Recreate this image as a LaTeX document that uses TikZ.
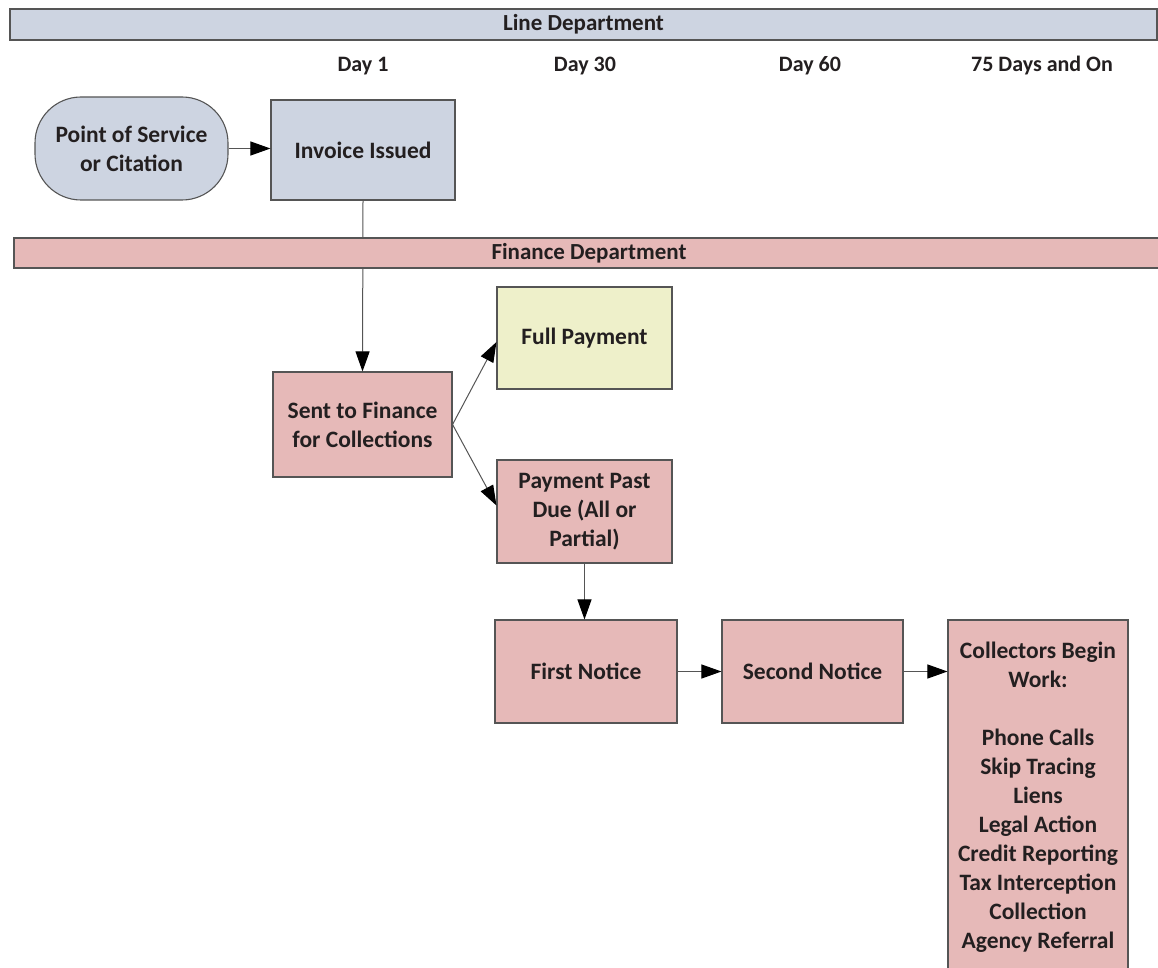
\documentclass[tikz,border=0pt]{standalone}
\usepackage{fontspec}
\setmainfont{Carlito}
\usetikzlibrary{arrows.meta,positioning,calc}
\definecolor{lineblue}{RGB}{205,212,225}
\definecolor{finred}{RGB}{230,185,184}
\definecolor{fullyel}{RGB}{238,240,202}
\definecolor{edge}{RGB}{85,85,85}
\definecolor{txt}{RGB}{35,31,32}
\tikzset{
  box/.style={draw=edge, line width=1.1pt, align=center, text=txt, font=\bfseries\fontsize{23.5}{29}\selectfont, inner sep=2pt},
  bar/.style={draw=edge, line width=1.1pt, text=txt, font=\bfseries\fontsize{23}{26}\selectfont, inner sep=0pt},
  daylab/.style={text=txt, font=\bfseries\fontsize{22}{26}\selectfont},
  conn/.style={draw=edge, line width=1pt},
  arr/.style={conn, -{Triangle[length=20pt,width=14pt,color=black]}}
}
\begin{document}
\begin{tikzpicture}[x=1pt,y=-1pt]
\useasboundingbox (0,0) rectangle (1158,968);
\clip (0,0) rectangle (1158,968);
% day labels
\node[daylab] (d1) at (363,66) {Day 1};
\node[daylab] (d30) at (585,66) {Day 30};
\node[daylab] (d60) at (810,66) {Day 60};
\node[daylab] (d75) at (1042,66) {75 Days and On};
% nodes
\node[box, fill=lineblue, rounded corners=46pt, minimum width=193pt, minimum height=103pt] (pos) at (131.5,148.5) {Point of Service\\or Citation};
\node[box, fill=lineblue, minimum width=184pt, minimum height=100pt] (inv) at (363,150) {Invoice Issued};
\node[box, fill=finred, minimum width=179pt, minimum height=105pt] (sent) at (362.5,424.5) {Sent to Finance\\for Collections};
\node[box, fill=fullyel, minimum width=175pt, minimum height=102pt] (full) at (584.5,338) {Full Payment};
\node[box, fill=finred, minimum width=175pt, minimum height=103pt] (ppd) at (584.5,511.5) {Payment Past\\Due (All or\\Partial)};
\node[box, fill=finred, minimum width=182pt, minimum height=103pt] (first) at (586,671.5) {First Notice};
\node[box, fill=finred, minimum width=181pt, minimum height=103pt] (second) at (812.5,671.5) {Second Notice};
\node[box, fill=finred, minimum width=180pt, minimum height=355pt] (coll) at (1038,797.5) {Collectors Begin\\Work:\\[29pt]Phone Calls\\Skip Tracing\\Liens\\Legal Action\\Credit Reporting\\Tax Interception\\Collection\\Agency Referral};
% connectors
\draw[arr] (pos.east) -- (pos.east -| inv.west);
\draw[arr] (inv.south) -- (sent.north);
\draw[arr] (sent.east) -- ($(full.west)+(0,4)$);
\draw[arr] (sent.east) -- ($(ppd.west)+(0,-6)$);
\draw[arr] (ppd.south) -- (first.north -| ppd.south);
\draw[arr] (first.east) -- (second.west);
\draw[arr] (second.east) -- (coll.west |- second.east);
% department bars (drawn over the connector)
\node[bar, fill=lineblue, minimum width=1147pt, minimum height=31pt] (linedep) at (583.5,24.5) {Line Department};
\node[bar, fill=finred, minimum width=1150pt, minimum height=30pt] (findep) at (589,253) {Finance Department};
\end{tikzpicture}
\end{document}
